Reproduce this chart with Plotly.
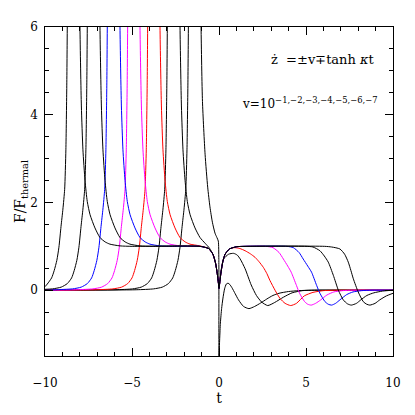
import plotly.graph_objects as go

# F/F_thermal, one list per v = 10^-1 ... 10^-7
# (None splits each curve at its pole, which runs off the top of the plot)
t_v1 = [-10.0, -4.76, -3.76, -3.26, -2.91, -2.66, -2.51, -2.36, -2.24, -2.12, -2.01, -1.91, -1.84, -1.79, -1.76, -1.72, None,
        -1.07, -1.03, -0.95, -0.8, -0.65, -0.52, -0.38, -0.23, -0.12, -0.04, -0.01, 0.0, 0.04, 0.08, 0.15, 0.22, 0.32,
        0.42, 0.52, 0.62, 0.74, 0.93, 1.12, 1.41, 1.72, 2.05, 2.4, 2.75, 3.1, 3.45, 4.0, 4.6, 5.3, 10.0]
f_v1 = [0.0, 0.01, 0.03, 0.07, 0.15, 0.28, 0.45, 0.68, 0.98, 1.45, 1.85, 2.3, 3.2, 4.6, 6.0, 9.0, None,
        9.0, 6.0, 4.3, 3.1, 2.35, 1.9, 1.55, 1.3, 1.2, 1.12, 0.7, -1.5, -1.1, -0.75, -0.42, -0.2, 0.03,
        0.14, 0.16, 0.13, 0.06, -0.08, -0.22, -0.37, -0.42, -0.37, -0.29, -0.2, -0.12, -0.07, -0.03, -0.01, 0.0, 0.0]

t_v2 = [-10.0, -5.97, -4.97, -4.47, -4.12, -3.87, -3.72, -3.57, -3.45, -3.33, -3.22, -3.12, -3.05, -3.0, -2.97, -2.93, None,
        -2.28, -2.24, -2.16, -2.07, -1.95, -1.82, -1.66, -1.38, -1.09, -0.8, -0.55, -0.35, -0.2, -0.1, -0.03, 0.0,
        0.05, 0.12, 0.26, 0.55, 0.84, 1.05, 1.22, 1.5, 1.85, 2.15, 2.45, 2.8, 3.2, 3.7, 4.2, 4.8, 5.5, 10.0]
f_v2 = [0.0, 0.01, 0.03, 0.07, 0.15, 0.28, 0.45, 0.68, 0.98, 1.45, 1.85, 2.3, 3.2, 4.6, 6.0, 9.0, None,
        9.0, 6.0, 4.2, 3.2, 2.5, 2.02, 1.72, 1.42, 1.2, 1.07, 0.96, 0.82, 0.62, 0.38, 0.15, 0.04,
        0.2, 0.45, 0.71, 0.82, 0.84, 0.8, 0.71, 0.49, 0.12, -0.12, -0.27, -0.35, -0.28, -0.16, -0.06, -0.01, 0.0, 0.0]

t_v3 = [-10.0, -7.1, -6.1, -5.6, -5.25, -5.0, -4.85, -4.7, -4.58, -4.46, -4.35, -4.25, -4.18, -4.13, -4.1, -4.06, None,
        -3.43, -3.39, -3.31, -3.22, -3.1, -2.97, -2.81, -2.53, -2.24, -1.94, -1.67, -1.1, -0.6, -0.35, -0.2, -0.1,
        -0.03, 0.0, 0.05, 0.12, 0.22, 0.35, 0.6, 0.9, 1.2, 1.5, 1.8, 2.07, 2.3, 2.55, 2.75, 2.93, 3.22, 3.51, 3.8,
        4.12, 4.45, 4.9, 5.4, 6.0, 6.8, 10.0]
f_v3 = [0.0, 0.01, 0.03, 0.07, 0.15, 0.28, 0.45, 0.68, 0.98, 1.45, 1.85, 2.3, 3.2, 4.6, 6.0, 9.0, None,
        9.0, 6.0, 4.2, 3.2, 2.5, 2.02, 1.72, 1.42, 1.2, 1.1, 1.05, 1.01, 0.95, 0.82, 0.62, 0.38,
        0.15, 0.04, 0.2, 0.42, 0.65, 0.82, 0.94, 0.97, 0.95, 0.9, 0.83, 0.75, 0.65, 0.52, 0.38, 0.22, 0.0, -0.19, -0.3,
        -0.35, -0.3, -0.13, -0.05, -0.01, 0.0, 0.0]

t_v4 = [-10.0, -8.25, -7.25, -6.75, -6.4, -6.15, -6.0, -5.85, -5.73, -5.61, -5.5, -5.4, -5.33, -5.28, -5.25, -5.21, None,
        -4.58, -4.54, -4.46, -4.37, -4.25, -4.12, -3.96, -3.68, -3.39, -3.09, -2.82, -2.24, -1.54, -1.1, -0.6, -0.35,
        -0.2, -0.1, -0.03, 0.0, 0.05, 0.12, 0.22, 0.35, 0.6, 1.0, 1.5, 2.7, 3.1, 3.45, 3.7, 3.95, 4.15, 4.45, 4.63,
        4.92, 5.1, 5.3, 5.55, 5.85, 6.2, 6.6, 7.1, 7.7, 10.0]
f_v4 = [0.0, 0.01, 0.03, 0.07, 0.15, 0.28, 0.45, 0.68, 0.98, 1.45, 1.85, 2.3, 3.2, 4.6, 6.0, 9.0, None,
        9.0, 6.0, 4.2, 3.2, 2.5, 2.02, 1.72, 1.42, 1.2, 1.1, 1.05, 1.01, 1.0, 1.0, 0.95, 0.82,
        0.62, 0.38, 0.15, 0.04, 0.2, 0.42, 0.65, 0.82, 0.94, 0.99, 1.0, 1.0, 0.97, 0.86, 0.71, 0.55, 0.41, 0.11, -0.07,
        -0.26, -0.32, -0.34, -0.3, -0.22, -0.11, -0.04, -0.01, 0.0, 0.0]

t_v5 = [-10.0, -9.42, -8.42, -7.92, -7.57, -7.32, -7.17, -7.02, -6.9, -6.78, -6.67, -6.57, -6.5, -6.45, -6.42, -6.38, None,
        -5.73, -5.69, -5.61, -5.52, -5.4, -5.27, -5.11, -4.83, -4.54, -4.24, -3.97, -3.39, -2.69, -1.1, -0.6, -0.35,
        -0.2, -0.1, -0.03, 0.0, 0.05, 0.12, 0.22, 0.35, 0.6, 1.0, 1.5, 3.9, 4.27, 4.6, 4.84, 5.1, 5.32, 5.61, 5.8,
        6.09, 6.28, 6.47, 6.7, 6.95, 7.34, 7.7, 8.2, 8.8, 10.0]
f_v5 = [0.0, 0.01, 0.03, 0.07, 0.15, 0.28, 0.45, 0.68, 0.98, 1.45, 1.85, 2.3, 3.2, 4.6, 6.0, 9.0, None,
        9.0, 6.0, 4.2, 3.2, 2.5, 2.02, 1.72, 1.42, 1.2, 1.1, 1.05, 1.01, 1.0, 1.0, 0.95, 0.82,
        0.62, 0.38, 0.15, 0.04, 0.2, 0.42, 0.65, 0.82, 0.94, 0.99, 1.0, 1.0, 0.97, 0.86, 0.71, 0.55, 0.41, 0.11, -0.07,
        -0.26, -0.32, -0.34, -0.3, -0.22, -0.1, -0.04, -0.01, 0.0, 0.0]

t_v6 = [-10.0, -9.57, -9.07, -8.72, -8.47, -8.32, -8.17, -8.05, -7.93, -7.82, -7.72, -7.65, -7.6, -7.57, -7.53, None,
        -6.88, -6.84, -6.76, -6.67, -6.55, -6.42, -6.26, -5.98, -5.69, -5.39, -5.12, -4.54, -3.84, -1.1, -0.6, -0.35,
        -0.2, -0.1, -0.03, 0.0, 0.05, 0.12, 0.22, 0.35, 0.6, 1.0, 1.5, 5.0, 5.4, 5.8, 6.05, 6.28, 6.57, 6.86, 7.14,
        7.38, 7.6, 7.9, 8.15, 8.5, 8.9, 9.4, 10.0]
f_v6 = [0.02, 0.03, 0.07, 0.15, 0.28, 0.45, 0.68, 0.98, 1.45, 1.85, 2.3, 3.2, 4.6, 6.0, 9.0, None,
        9.0, 6.0, 4.2, 3.2, 2.5, 2.02, 1.72, 1.42, 1.2, 1.1, 1.05, 1.01, 1.0, 1.0, 0.95, 0.82,
        0.62, 0.38, 0.15, 0.04, 0.2, 0.42, 0.65, 0.82, 0.94, 0.99, 1.0, 1.0, 0.985, 0.9, 0.78, 0.64, 0.34, 0.0, -0.22,
        -0.31, -0.34, -0.3, -0.22, -0.12, -0.06, -0.02, 0.0]

t_v7 = [-10.0, -9.87, -9.62, -9.47, -9.32, -9.2, -9.08, -8.97, -8.87, -8.8, -8.75, -8.72, -8.68, None,
        -8.03, -7.99, -7.91, -7.82, -7.7, -7.57, -7.41, -7.13, -6.84, -6.54, -6.27, -5.69, -4.99, -1.1, -0.6, -0.35,
        -0.2, -0.1, -0.03, 0.0, 0.05, 0.12, 0.22, 0.35, 0.6, 1.0, 1.5, 6.07, 6.47, 6.95, 7.22, 7.43, 7.58, 7.72, 8.0,
        8.29, 8.49, 8.67, 8.97, 9.24, 9.62, 10.0]
f_v7 = [0.08, 0.14, 0.28, 0.45, 0.68, 0.98, 1.45, 1.85, 2.3, 3.2, 4.6, 6.0, 9.0, None,
        9.0, 6.0, 4.2, 3.2, 2.5, 2.02, 1.72, 1.42, 1.2, 1.1, 1.05, 1.01, 1.0, 1.0, 0.95, 0.82,
        0.62, 0.38, 0.15, 0.04, 0.2, 0.42, 0.65, 0.82, 0.94, 0.99, 1.0, 1.0, 0.985, 0.94, 0.82, 0.64, 0.45, 0.26, -0.04,
        -0.26, -0.32, -0.34, -0.3, -0.22, -0.13, -0.07]

# tick labels (x labels carry a leading blank line to sit lower, as in the reference)
x_tickvals = [-10, -5, 0, 5, 10]
x_ticktext = ["<br>−10", "<br>−5", "<br>0", "<br>5", "<br>10"]

series = [
    (t_v1, f_v1, "black"),
    (t_v2, f_v2, "black"),
    (t_v3, f_v3, "red"),
    (t_v4, f_v4, "magenta"),
    (t_v5, f_v5, "blue"),
    (t_v6, f_v6, "black"),
    (t_v7, f_v7, "black"),
]

fig = go.Figure()
for t, f, col in series:
    fig.add_trace(go.Scatter(x=t, y=f, mode="lines",
                             line=dict(color=col, width=1, shape="spline", smoothing=0.6),
                             showlegend=False, hoverinfo="skip"))

# the page body adds an 8px offset, so the margins are shifted to compensate
fig.update_layout(
    width=415, height=415,
    margin=dict(l=37, r=30, t=15, b=67),
    paper_bgcolor="white", plot_bgcolor="white",
    font=dict(family="DejaVu Serif", size=12, color="black"),
    annotations=[
        dict(text="ż  =±v∓tanh <i>κ</i>t", xref="paper", yref="paper", x=0.645, y=0.902,
             xanchor="left", yanchor="middle", showarrow=False, font=dict(size=13)),
        dict(text="v=10<sup>−1,−2,−3,−4,−5,−6,−7</sup>", xref="paper", yref="paper", x=0.56, y=0.77,
             xanchor="left", yanchor="middle", showarrow=False, font=dict(size=12)),
    ],
)
fig.update_xaxes(range=[-10, 10], tickvals=x_tickvals, ticktext=x_ticktext,
                 ticks="inside", ticklen=8, tickwidth=1, tickcolor="black",
                 mirror="allticks", showline=True, linecolor="black",
                 showgrid=False, zeroline=False,
                 minor=dict(dtick=1, ticklen=4, ticks="inside", tickcolor="black", tickwidth=1),
                 title=dict(text="t", standoff=2))
fig.update_yaxes(range=[-1.5, 6], dtick=2, ticksuffix="\u00a0",
                 ticks="inside", ticklen=8, tickwidth=1, tickcolor="black",
                 mirror="allticks", showline=True, linecolor="black",
                 showgrid=False, zeroline=False,
                 minor=dict(dtick=0.5, ticklen=4, ticks="inside", tickcolor="black", tickwidth=1),
                 title=dict(text="F/F<sub>thermal</sub>", standoff=0))

fig.write_html("out.html")
